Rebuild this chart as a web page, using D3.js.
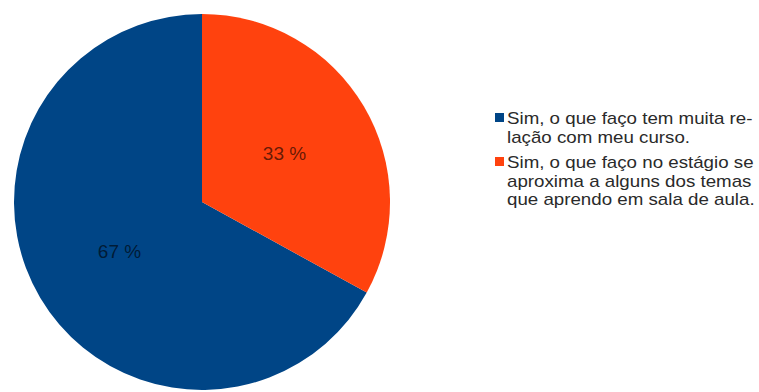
<!DOCTYPE html>
<html><head><meta charset="utf-8">
<script src="https://cdn.jsdelivr.net/npm/d3@7"></script>
<style>body{margin:0;background:#fff}svg{display:block}</style>
</head><body>
<svg id="c" width="759" height="392"></svg>
<script>
const categories = ["Sim, o que faço tem muita relação com meu curso.", "Sim, o que faço no estágio se aproxima a alguns dos temas que aprendo em sala de aula."];
const legendLines = [["Sim, o que faço tem muita re-", "lação com meu curso."], ["Sim, o que faço no estágio se", "aproxima a alguns dos temas", "que aprendo em sala de aula."]];
const values = [67, 33];
const labels = ["67 %", "33 %"];
const colors = ["#004586", "#ff420e"];

const svg = d3.select("#c");
const cx = 202, cy = 202, r = 188;
const data = categories.map((c, i) => ({c, v: values[i], l: labels[i], col: colors[i]}));
const start = -2 * Math.PI * values[0] / 100;
const pie = d3.pie().value(d => d.v).sort(null).startAngle(start).endAngle(start + 2 * Math.PI);
const arcs = pie(data);
const arc = d3.arc().innerRadius(0).outerRadius(r);
const g = svg.append("g").attr("transform", `translate(${cx},${cy})`);
g.selectAll("path").data(arcs).join("path").attr("d", arc).attr("fill", d => d.data.col);
const labelArc = d3.arc().innerRadius(r * 0.51).outerRadius(r * 0.51);
g.selectAll("text").data(arcs).join("text")
  .attr("transform", d => `translate(${labelArc.centroid(d)})`)
  .attr("text-anchor", "middle").attr("dy", "0.36em")
  .attr("font-family", "Liberation Sans, Arial, sans-serif").attr("font-size", 19)
  .attr("fill", "#000").attr("fill-opacity", 0.62)
  .text(d => d.data.l);

const lg = svg.append("g").attr("font-family", "Liberation Sans, Arial, sans-serif").attr("font-size", 16).attr("fill", "#2a2a2a");
let y = 124;
legendLines.forEach((lines, i) => {
  lg.append("rect").attr("x", 495).attr("y", y - 11).attr("width", 9).attr("height", 9).attr("fill", colors[i]);
  lines.forEach((t, j) => {
    lg.append("text").attr("transform", `translate(507,${y}) scale(1.17,1)`).text(t);
    y += 18.5;
  });
  y += 7;
});
</script>
</body></html>
